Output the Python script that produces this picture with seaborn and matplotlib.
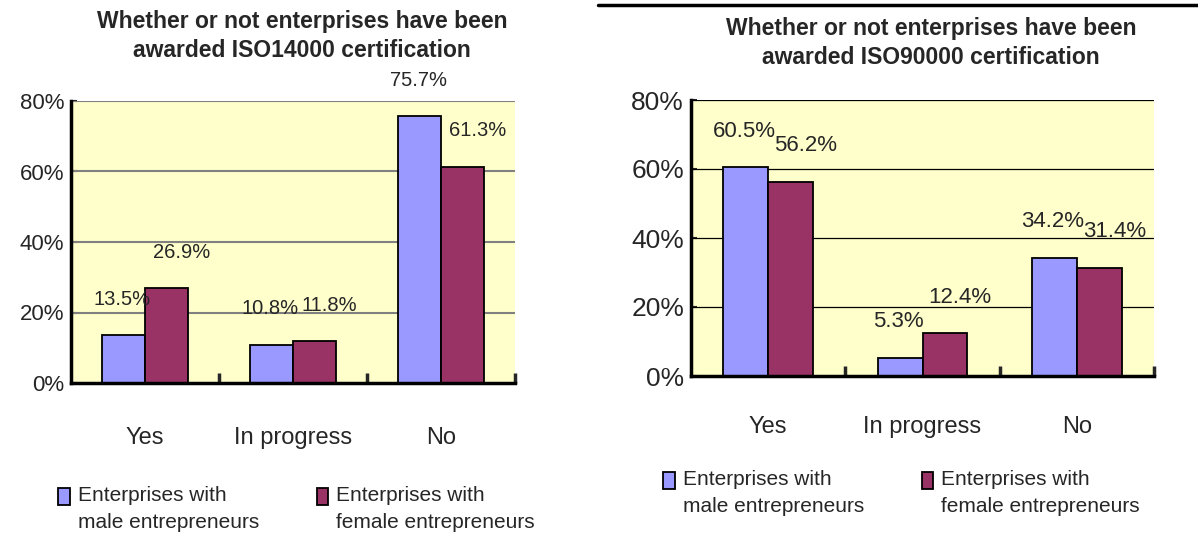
import matplotlib
matplotlib.use('Agg')
import matplotlib.pyplot as plt
import seaborn as sns
import pandas as pd
from matplotlib.lines import Line2D
from matplotlib.patches import Rectangle
from matplotlib.legend_handler import HandlerPatch
from matplotlib.ticker import FuncFormatter

# data (percent)
categories = ['Yes', 'In progress', 'No']
groups = ['Enterprises with\nmale entrepreneurs', 'Enterprises with\nfemale entrepreneurs']
iso14000_male = [13.5, 10.8, 75.7]
iso14000_female = [26.9, 11.8, 61.3]
iso90000_male = [60.5, 5.3, 34.2]
iso90000_female = [56.2, 12.4, 31.4]
yticks = [0, 20, 40, 60, 80]

male_color = '#9999FF'
female_color = '#993366'
plot_bg = '#FFFFCC'

sns.set_theme(style='white')
plt.rcParams['font.family'] = ['Liberation Sans', 'DejaVu Sans']


def make_df(male, female):
    df = pd.DataFrame({
        'category': categories * 2,
        'group': [groups[0]] * 3 + [groups[1]] * 3,
        'value': male + female,
    })
    return df


def draw_panel(ax, df, grid_color, grid_lw, ytick_size, val_size, xlab_pad):
    ax.set_facecolor(plot_bg)
    sns.barplot(data=df, x='category', y='value', hue='group',
                palette=[male_color, female_color], width=0.58,
                edgecolor='black', linewidth=1.3, saturation=1,
                ax=ax, zorder=3)
    ax.set_ylim(0, 80)
    ax.set_xlim(-0.5, 2.5)
    ax.set_yticks(yticks)
    ax.yaxis.set_major_formatter(FuncFormatter(lambda v, p: f'{v:.0f}%'))
    ax.set_xlabel('')
    ax.set_ylabel('')
    for y in yticks[1:]:
        ax.axhline(y, color=grid_color, lw=grid_lw, zorder=1)
    for s in ['top', 'right']:
        ax.spines[s].set_visible(False)
    for s in ['left', 'bottom']:
        ax.spines[s].set_color('black')
        ax.spines[s].set_linewidth(2.5)
        ax.spines[s].set_zorder(4)
    ax.tick_params(axis='y', direction='in', length=4, width=1.5,
                   left=True, pad=5, labelsize=ytick_size)
    ax.tick_params(axis='x', which='major', length=0, pad=xlab_pad,
                   labelsize=17)
    ax.set_xticks([0.5, 1.5, 2.5], minor=True)
    ax.tick_params(axis='x', which='minor', direction='in', length=7,
                   width=2.5, bottom=True)
    # value labels above bars, the second series' labels sit a bit to the right
    for i, cont in enumerate(ax.containers):
        for bar, val in zip(cont, cont.datavalues):
            ax.annotate(f'{val:.1f}%',
                        (bar.get_x() + bar.get_width() / 2, val),
                        xytext=(12 * i - 1, 26), textcoords='offset points',
                        ha='center', va='center', fontsize=val_size,
                        zorder=5)
    handles, labels = ax.get_legend_handles_labels()
    ax.get_legend().remove()
    return handles, labels


def top_patch(legend, orig_handle, xdescent, ydescent, width, height, fontsize):
    # swatch sits next to the first line of the two-line label
    return Rectangle((-xdescent, -ydescent + 0.6 * fontsize), width, height)


W, H = 1198, 543
fig = plt.figure(figsize=(W / 100, H / 100), dpi=100)

ax1 = fig.add_axes([71 / W, 1 - 383 / H, 444 / W, 282 / H])
ax2 = fig.add_axes([691 / W, 1 - 376 / H, 463 / W, 276 / H])

h1, l1 = draw_panel(ax1, make_df(iso14000_male, iso14000_female),
                    '#808080', 1.5, 16, 14.5, 32)
h2, l2 = draw_panel(ax2, make_df(iso90000_male, iso90000_female),
                    'black', 0.9, 19, 16, 29)

fig.text(302 / W, 1 - 36 / H,
         'Whether or not enterprises have been\nawarded ISO14000 certification',
         ha='center', va='center', fontsize=16.5, fontweight='bold',
         linespacing=1.3)
fig.text(931 / W, 1 - 43 / H,
         'Whether or not enterprises have been\nawarded ISO90000 certification',
         ha='center', va='center', fontsize=16.5, fontweight='bold',
         linespacing=1.3)

leg_kw = dict(ncol=2, frameon=False, fontsize=15, handlelength=0.55,
              handleheight=0.85, handletextpad=0.4, columnspacing=2.75,
              loc='center left', borderaxespad=0, labelspacing=0,
              handler_map={Rectangle: HandlerPatch(patch_func=top_patch)})
leg1 = fig.legend(h1, l1, bbox_to_anchor=(50 / W, 1 - 509 / H), **leg_kw)
leg2 = fig.legend(h2, l2, bbox_to_anchor=(655 / W, 1 - 493 / H), **leg_kw)
for leg in (leg1, leg2):
    for t in leg.get_texts():
        t.set_linespacing(1.55)
    for p in leg.get_patches():
        p.set_edgecolor('black')
        p.set_linewidth(1.3)

# dark rule along the top of the right panel
fig.add_artist(Line2D([598 / W, 1.0], [1 - 5 / H, 1 - 5 / H],
                      color='black', lw=2.5, transform=fig.transFigure))

fig.savefig('out.png', dpi=100)
